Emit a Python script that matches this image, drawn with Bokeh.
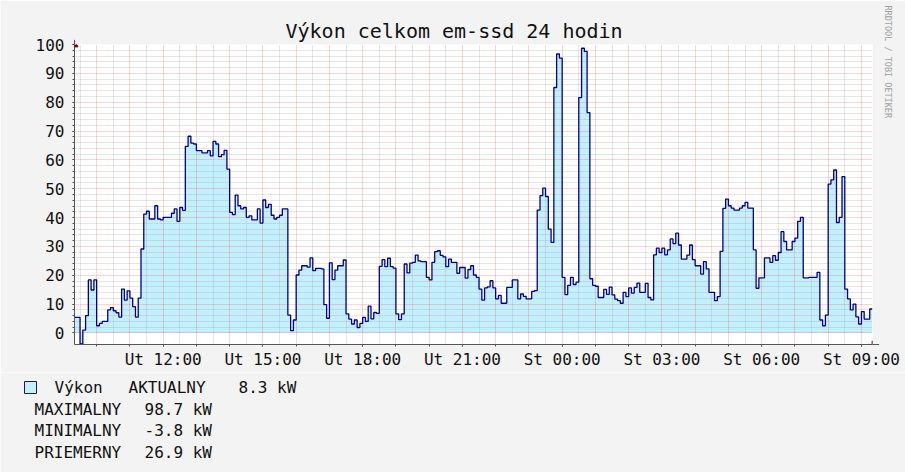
import math
from bokeh.plotting import figure
from bokeh.layouts import column, row
from bokeh.models import Range1d, FixedTicker, Arrow, NormalHead, Title, ColumnDataSource
from bokeh.core.properties import value
from bokeh.embed import file_html
from bokeh.resources import INLINE

# ---- data (minutes since Ut 00:00 where a 5-min step starts, value in kW) ----
times = [560, 570, 575, 580, 585, 590, 595, 600, 605, 610, 620, 625, 630, 635, 640, 645, 650, 655, 660, 665,
         670, 675, 680, 685, 690, 695, 705, 710, 715, 720, 735, 740, 745, 750, 755, 760, 765, 770, 775, 780,
         790, 800, 805, 810, 815, 820, 825, 830, 835, 840, 845, 850, 855, 860, 865, 870, 875, 880, 890, 895,
         900, 905, 910, 915, 920, 925, 930, 935, 945, 950, 955, 960, 965, 970, 980, 985, 990, 995, 1005, 1010,
         1015, 1020, 1025, 1030, 1035, 1045, 1050, 1055, 1060, 1065, 1070, 1075, 1080, 1085, 1090, 1095, 1100, 1105, 1110, 1115,
         1120, 1125, 1130, 1135, 1140, 1145, 1150, 1155, 1160, 1165, 1170, 1175, 1180, 1185, 1195, 1200, 1205, 1210, 1215, 1220,
         1225, 1230, 1235, 1240, 1250, 1255, 1265, 1270, 1275, 1280, 1285, 1290, 1295, 1300, 1305, 1310, 1315, 1320, 1325, 1330,
         1340, 1350, 1360, 1365, 1370, 1375, 1385, 1390, 1395, 1400, 1405, 1410, 1415, 1420, 1425, 1430, 1435, 1440, 1445, 1450,
         1455, 1460, 1465, 1470, 1475, 1480, 1485, 1490, 1495, 1500, 1505, 1515, 1520, 1525, 1530, 1535, 1540, 1545, 1550, 1555,
         1560, 1565, 1570, 1575, 1580, 1590, 1595, 1600, 1605, 1610, 1615, 1620, 1625, 1630, 1635, 1640, 1645, 1650, 1655, 1665,
         1670, 1675, 1680, 1690, 1695, 1700, 1705, 1715, 1720, 1725, 1730, 1735, 1740, 1745, 1750, 1760, 1765, 1770, 1775, 1785,
         1790, 1795, 1805, 1815, 1820, 1825, 1830, 1835, 1840, 1845, 1855, 1860, 1865, 1870, 1875, 1885, 1900, 1905, 1910, 1915,
         1920, 1925, 1930, 1935, 1940, 1945, 1950, 1955, 1960, 1965, 1970, 1975, 1980, 1985, 1995]
values = [5.4, -3.8, 1.0, 6.0, 18.4, 14.9, 18.4, 2.5, 3.3, 4.0, 8.0, 8.8, 7.7, 7.0, 5.5, 15.2, 11.4, 14.6, 12.1, 9.1,
          5.5, 12.1, 29.1, 41.2, 42.2, 39.5, 44.1, 39.5, 39.2, 40.1, 41.5, 43.0, 38.7, 43.5, 42.5, 64.7, 68.2, 65.8, 65.5, 63.2,
          62.4, 63.2, 61.4, 66.4, 65.5, 61.1, 61.8, 63.3, 56.8, 41.8, 41.0, 47.8, 44.1, 43.0, 43.5, 40.1, 40.6, 39.2, 43.0, 38.1,
          46.1, 43.5, 44.6, 40.8, 39.5, 40.1, 40.8, 43.0, 6.2, 0.8, 4.5, 20.1, 21.8, 23.3, 22.8, 26.0, 21.6, 22.4, 22.2, 9.8,
          5.1, 24.3, 18.5, 21.8, 23.3, 25.3, 6.6, 4.8, 3.1, 4.5, 1.9, 3.3, 5.4, 4.0, 9.3, 4.9, 7.1, 6.8, 23.1, 25.4,
          23.0, 25.9, 23.0, 22.5, 6.6, 4.6, 6.6, 23.9, 20.8, 24.2, 24.5, 27.0, 25.0, 24.7, 19.3, 18.4, 24.5, 28.2, 28.5, 26.9,
          26.4, 23.0, 25.6, 24.5, 20.7, 22.7, 19.0, 22.0, 23.3, 20.1, 19.3, 15.2, 11.4, 15.6, 16.0, 18.1, 15.6, 11.8, 13.0, 10.3,
          15.8, 18.4, 11.8, 13.5, 12.7, 11.8, 14.4, 14.7, 42.6, 47.6, 50.2, 47.3, 36.0, 31.4, 85.1, 96.7, 95.3, 19.3, 13.3, 16.5,
          19.3, 16.8, 17.6, 81.6, 98.7, 97.6, 76.4, 18.8, 16.5, 16.2, 12.3, 15.1, 13.4, 15.9, 13.2, 11.7, 11.2, 10.3, 14.1, 12.6,
          15.6, 13.8, 15.8, 17.3, 14.1, 17.2, 12.3, 11.5, 27.1, 29.4, 27.9, 29.4, 27.1, 28.8, 32.6, 31.0, 34.6, 30.5, 25.6, 27.0,
          30.5, 25.4, 23.3, 20.4, 24.7, 22.2, 14.1, 11.2, 12.6, 28.3, 43.2, 46.4, 44.1, 43.3, 42.6, 43.3, 44.1, 45.3, 43.3, 28.8,
          15.5, 19.1, 26.0, 24.5, 26.8, 25.2, 27.9, 35.1, 31.7, 28.8, 31.7, 32.9, 38.7, 40.1, 19.1, 19.3, 21.0, 4.5, 2.5, 6.2,
          51.6, 53.1, 56.5, 38.3, 40.1, 54.2, 15.2, 11.8, 8.0, 10.0, 5.6, 3.1, 7.4, 4.8, 8.3]
end_time = 2000

tick_hours = [12, 15, 18, 21, 24, 27, 30, 33]
tick_labels = ["Ut 12:00", "Ut 15:00", "Ut 18:00", "Ut 21:00", "St 00:00", "St 03:00", "St 06:00", "St 09:00"]
y_ticks = [0, 10, 20, 30, 40, 50, 60, 70, 80, 90, 100]

title_text = "Výkon celkom em-ssd 24 hodin"
series_name = "Výkon"
legend_names = ["AKTUALNY", "MAXIMALNY", "MINIMALNY", "PRIEMERNY"]
legend_values = ["8.3 kW", "98.7 kW", "-3.8 kW", "26.9 kW"]
watermark = "RRDTOOL / TOBI OETIKER"

FONT = "DejaVu Sans Mono"
BG = "#F3F3F3"
FILL = "#C4F0FD"
LINE = "#00008B"

xs = [t / 60 for t in times] + [end_time / 60]
ys = values + [values[-1]]
src = ColumnDataSource(data=dict(x=xs, y=ys))

x0, x1 = times[0] / 60, end_time / 60
y0, y1 = -4, 100

p = figure(width=905, height=372, output_backend="svg", toolbar_location=None,
           x_range=Range1d(x0, x1), y_range=Range1d(y0, y1),
           min_border_left=74, min_border_right=31, min_border_top=44, min_border_bottom=28,
           background_fill_color="white", border_fill_color=BG, outline_line_color=None)
p.title.text = title_text
p.title.align = "left"
p.title.offset = 211
p.title.text_font = FONT
p.title.text_font_size = "20px"
p.title.text_font_style = "normal"
p.title.text_color = "#111111"
p.title.standoff = 3

area = p.varea_step(x="x", y1=0, y2="y", step_mode="after", source=src, fill_color=FILL)
area.level = "image"
p.step(x="x", y="y", mode="after", source=src, line_color=LINE, line_width=1.3)

# grids
hours = list(range(math.ceil(x0), math.floor(x1) + 1))
halves = [h + 0.5 for h in range(math.floor(x0), math.floor(x1) + 1) if x0 <= h + 0.5 <= x1]
p.xgrid.ticker = FixedTicker(ticks=hours, minor_ticks=halves)
p.ygrid.ticker = FixedTicker(ticks=y_ticks, minor_ticks=[v for v in range(0, 101, 2) if v % 10])
for g in (p.xgrid, p.ygrid):
    g.grid_line_color = "#FF0000"
    g.grid_line_alpha = 0.35
    g.grid_line_dash = "1 1"
    g.minor_grid_line_color = "#909090"
    g.minor_grid_line_alpha = 0.45
    g.minor_grid_line_dash = "1 1"

# axes
p.xaxis.ticker = FixedTicker(ticks=tick_hours, minor_ticks=hours)
p.xaxis.major_label_overrides = {h: l for h, l in zip(tick_hours, tick_labels)}
p.yaxis.ticker = FixedTicker(ticks=y_ticks, minor_ticks=list(range(0, 101, 2)))
for ax in (p.xaxis, p.yaxis):
    ax.axis_line_color = "#555555"
    ax.major_tick_line_color = "#555555"
    ax.minor_tick_line_color = "#555555"
    ax.major_tick_out = 2
    ax.major_tick_in = 0
    ax.minor_tick_out = 2
    ax.minor_tick_in = 0
    ax.major_label_text_font = FONT
    ax.major_label_text_font_size = "16px"
    ax.major_label_text_color = "#111111"
p.xaxis.major_label_standoff = 3
p.yaxis.major_label_standoff = 8

# axis arrows
p.add_layout(Arrow(end=NormalHead(size=7, fill_color="#800000", line_color="#800000"),
                   x_start=x1, y_start=y0, x_end=x1 + 0.2, y_end=y0, line_color="#555555"))
p.add_layout(Arrow(end=NormalHead(size=7, fill_color="#800000", line_color="#800000"),
                   x_start=x0, y_start=y1, x_end=x0, y_end=y1 + 1.6, line_color="#555555"))

# watermark on the right side
p.add_layout(Title(text=watermark, align="left", text_font=FONT, text_font_size="8.5px",
                   text_font_style="normal", text_color="#A0A0A0", standoff=21, offset=-39), "right")

# ---- legend strip (its own small figure, pixel-like coordinates) ----
LW, LH = 905, 100
leg = figure(width=LW, height=LH, output_backend="svg", toolbar_location=None,
             x_axis_location=None, y_axis_location=None,
             x_range=Range1d(0, LW), y_range=Range1d(LH, 0),
             min_border=0, background_fill_color=BG, border_fill_color=BG, outline_line_color=None)
leg.grid.visible = False

row_y = [15, 37, 58, 80]
name_x = [128, 34, 34, 34]
value_x = [238, 144, 144, 144]
leg.rect(x=[30], y=[row_y[0]], width=12, height=12, fill_color=FILL, line_color="#222222", line_width=1)
txt_style = dict(text_font=value(FONT), text_font_size=value("16px"), text_baseline="middle",
                 text_align="left", text_color="#111111")
leg.text(x=[54], y=[row_y[0]], text=[series_name], **txt_style)
leg.text(x=name_x, y=row_y, text=legend_names, **txt_style)
leg.text(x=value_x, y=row_y, text=legend_values, **txt_style)

layout = column(p, row(leg), spacing=0)
open("out.html", "w").write(file_html(layout, INLINE))
